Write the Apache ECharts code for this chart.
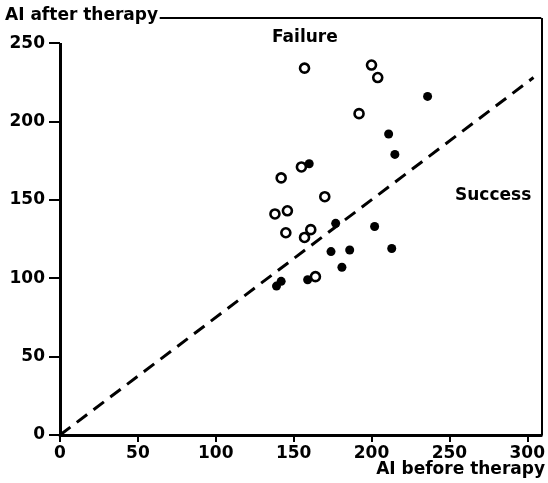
<!DOCTYPE html>
<html>
<head>
<meta charset="utf-8">
<script src="https://cdn.jsdelivr.net/npm/echarts@6/dist/echarts.min.js"></script>
<style>
  html, body { margin: 0; padding: 0; background: #fff; }
  #chart { width: 548px; height: 483px; }
</style>
</head>
<body>
<div id="chart"></div>
<script>
// open circles (failure)
var openBefore = [157, 200, 204, 192, 155, 142, 170, 138, 146, 145, 157, 161, 164];
var openAfter = [234, 236, 228, 205, 171, 164, 152, 141, 143, 129, 126, 131, 101];
// filled dots
var filledBefore = [236, 211, 215, 160, 177, 202, 174, 186, 181, 213, 159, 142, 139];
var filledAfter = [216, 192, 179, 173, 135, 133, 117, 118, 107, 119, 99, 98, 95];
// dashed reference line
var lineBefore = [0, 304];
var lineAfter = [0, 228];
var xTicks = [0, 50, 100, 150, 200, 250, 300];
var yTicks = [0, 50, 100, 150, 200, 250];

function pairs(a, b) {
    return a.map(function(v, i) { return [v, b[i]]; });
}

var font = 'DejaVu Sans';
var txt = {fontFamily: font, fontSize: 17, fontWeight: 'bold', color: '#000'};
var chart = echarts.init(document.getElementById('chart'));
chart.setOption({
    animation: false,
    backgroundColor: '#fff',
    title: [
        {text: 'AI after therapy', left: 5, top: 7, padding: 0, textStyle: txt},
        {text: 'AI before therapy', right: 3, top: 461, padding: 0, textStyle: txt},
        {text: 'Failure', left: 272, top: 29, padding: 0, textStyle: txt},
        {text: 'Success', left: 455, top: 187, padding: 0, textStyle: txt}
    ],
    grid: {left: 60, right: 3, top: 18, bottom: 48},
    xAxis: {
        type: 'value', min: 0, max: 309, interval: 50,
        splitLine: {show: false},
        axisLine: {show: true, lineStyle: {color: '#000', width: 3}},
        axisTick: {show: true, length: 7, customValues: xTicks, lineStyle: {color: '#000', width: 2}},
        axisLabel: {customValues: xTicks, margin: 10, color: '#000',
            fontFamily: font, fontSize: 17, fontWeight: 'bold'}
    },
    yAxis: {
        type: 'value', min: 0, max: 266, interval: 50,
        splitLine: {show: false},
        axisLine: {show: false},
        axisTick: {show: true, length: 11, customValues: yTicks, lineStyle: {color: '#000', width: 2}},
        axisLabel: {customValues: yTicks, margin: 15, color: '#000',
            fontFamily: font, fontSize: 17, fontWeight: 'bold'}
    },
    series: [
        {
            type: 'line',
            data: pairs(lineBefore, lineAfter),
            symbol: 'none',
            clip: false,
            lineStyle: {color: '#000', width: 3, type: [13, 8]},
            markLine: {
                silent: true,
                symbol: ['none', 'none'],
                label: {show: false},
                lineStyle: {color: '#000', type: 'solid'},
                data: [
                    [{coord: [0, 0], lineStyle: {width: 3}}, {coord: [0, 250]}],
                    [{coord: [64, 266], lineStyle: {width: 2}}, {coord: [309, 266]}],
                    [{coord: [309, 0], lineStyle: {width: 2}}, {coord: [309, 266]}]
                ]
            }
        },
        {
            type: 'scatter',
            data: pairs(openBefore, openAfter),
            symbol: 'circle',
            symbolSize: 9,
            itemStyle: {color: '#fff', borderColor: '#000', borderWidth: 2.6, opacity: 1}
        },
        {
            type: 'scatter',
            data: pairs(filledBefore, filledAfter),
            symbol: 'circle',
            symbolSize: 9,
            itemStyle: {color: '#000', opacity: 1}
        }
    ]
});
</script>
</body>
</html>
